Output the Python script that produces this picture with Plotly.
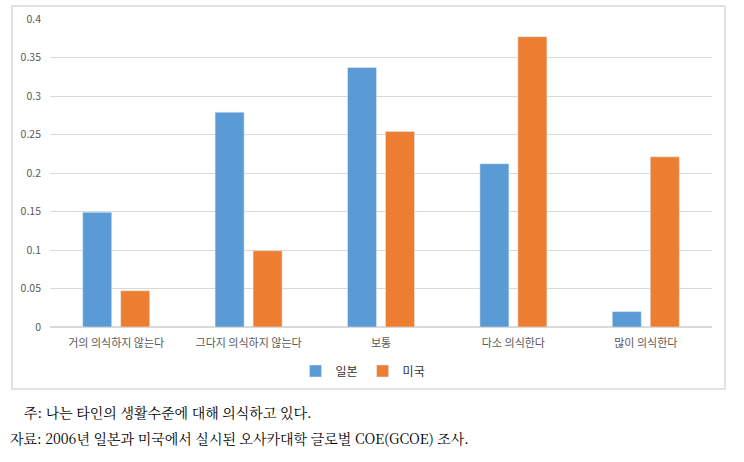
import plotly.graph_objects as go

categories = ["거의 의식하지 않는다", "그다지 의식하지 않는다", "보통", "다소 의식한다", "많이 의식한다"]
japan = [0.149, 0.279, 0.337, 0.212, 0.020]
usa = [0.047, 0.099, 0.254, 0.377, 0.221]
series_names = ["일본", "미국"]
y_ticks = [0, 0.05, 0.1, 0.15, 0.2, 0.25, 0.3, 0.35, 0.4]
y_tick_text = ["0", "0.05", "0.1", "0.15", "0.2", "0.25", "0.3", "0.35", "0.4"]
note_line = "주: 나는 타인의 생활수준에 대해 의식하고 있다."
source_line = "자료: 2006년 일본과 미국에서 실시된 오사카대학 글로벌 COE(GCOE) 조사."

W, H = 744, 462
L, R, T, B = 50, 32, 19, 135
pw, ph = W - L - R, H - T - B


def px_x(x):
    return (x - L) / pw


def px_y(y):
    return (H - B - y) / ph


fig = go.Figure()
fig.add_trace(go.Bar(x=categories, y=japan, name=series_names[0], marker_color="#5B9BD5"))
fig.add_trace(go.Bar(x=categories, y=usa, name=series_names[1], marker_color="#ED7D31"))

cjk = "Noto Sans CJK KR, Noto Sans, sans-serif"
serif = "Noto Serif CJK KR, Noto Sans CJK KR, serif"

fig.update_layout(
    width=W, height=H,
    margin=dict(l=L, r=R, t=T, b=B, pad=0),
    paper_bgcolor="white", plot_bgcolor="white",
    barmode="group", bargap=0.426, bargroupgap=0.237,
    showlegend=True,
    legend=dict(orientation="h", x=px_x(363), xanchor="center", y=px_y(371), yanchor="middle",
                font=dict(family=cjk, size=12, color="#333333"), itemwidth=30,
                bgcolor="rgba(0,0,0,0)"),
    xaxis=dict(showline=True, linecolor="#d9d9d9", linewidth=1, ticks="", ticklabelstandoff=6,
               tickfont=dict(family=cjk, size=11, color="#595959"), showgrid=False),
    yaxis=dict(range=[0, 0.4], tickvals=y_ticks, ticktext=y_tick_text, showgrid=True,
               gridcolor="#d9d9d9", gridwidth=1, zeroline=True, zerolinecolor="#d9d9d9",
               showline=False, ticks="", ticklabelstandoff=8,
               tickfont=dict(family=cjk, size=10.5, color="#595959")),
    font=dict(family=cjk),
)

fig.add_shape(type="rect", xref="paper", yref="paper",
              x0=px_x(12), x1=px_x(725), y0=px_y(389), y1=px_y(6),
              line=dict(color="#d9d9d9", width=1.5), fillcolor="rgba(0,0,0,0)", layer="below")

fig.add_annotation(text=note_line, xref="paper", yref="paper", x=px_x(22), y=px_y(412),
                   xanchor="left", yanchor="middle", showarrow=False,
                   font=dict(family=serif, size=14, color="black"))
fig.add_annotation(text=source_line, xref="paper", yref="paper", x=px_x(8), y=px_y(438),
                   xanchor="left", yanchor="middle", showarrow=False,
                   font=dict(family=serif, size=14, color="black"))

fig.write_html("out.html")
